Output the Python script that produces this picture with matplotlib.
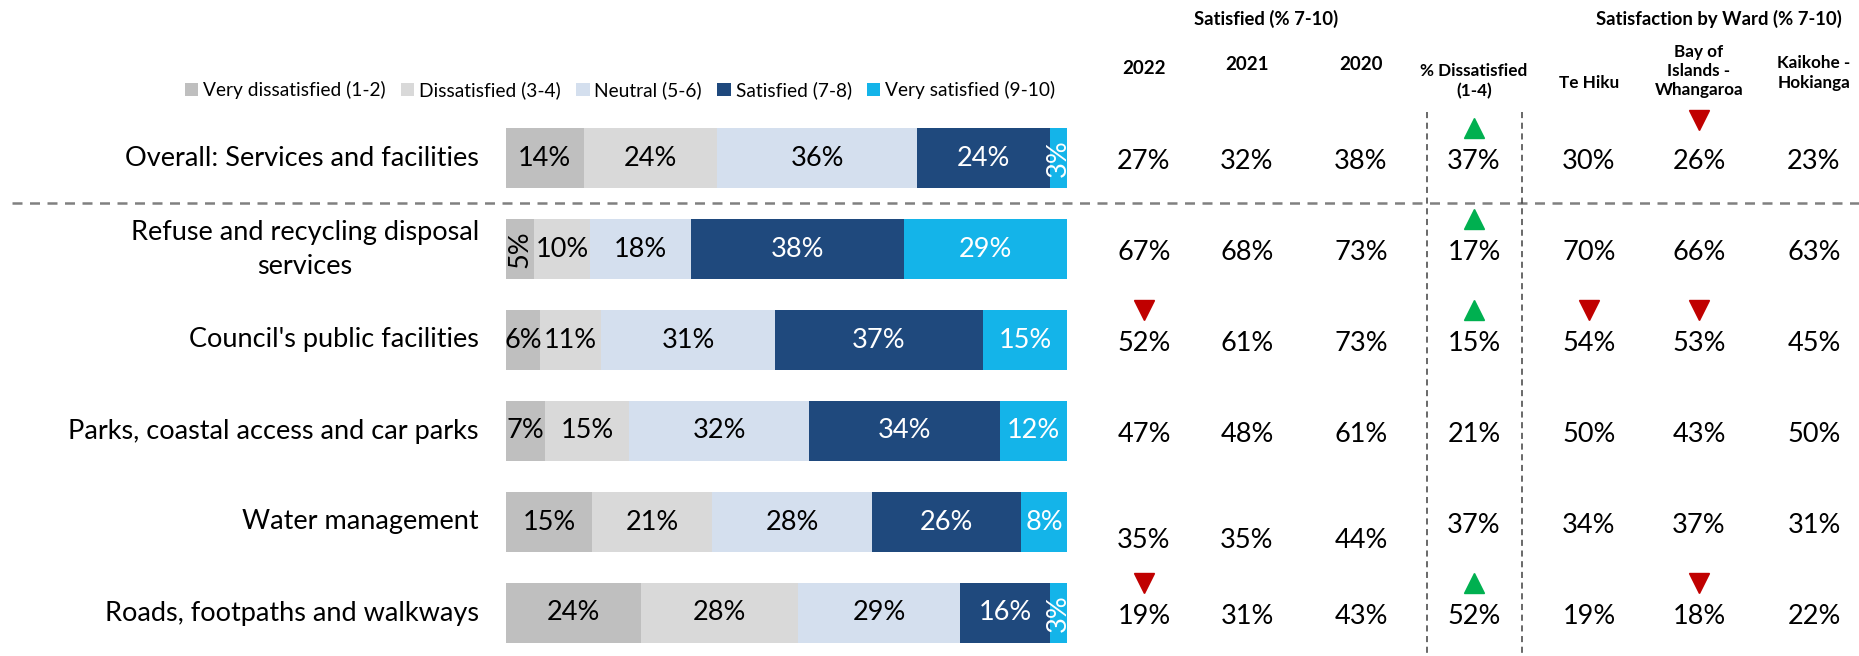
## import necessary libraries
import matplotlib
matplotlib.use('Agg')
import matplotlib.pyplot as plt
from matplotlib.lines import Line2D
from matplotlib.patches import Patch
from matplotlib.transforms import blended_transform_factory

plt.rcParams['font.family'] = ['Lato', 'DejaVu Sans']

# ------------------------------------------------------------------------------------------------
## data
categories = ['Overall: Services and facilities',
              'Refuse and recycling disposal\nservices',
              "Council's public facilities",
              'Parks, coastal access and car parks',
              'Water management',
              'Roads, footpaths and walkways']
segment_names = ['Very dissatisfied (1-2)', 'Dissatisfied (3-4)', 'Neutral (5-6)',
                 'Satisfied (7-8)', 'Very satisfied (9-10)']
very_dissatisfied = [14, 5, 6, 7, 15, 24]
dissatisfied = [24, 10, 11, 15, 21, 28]
neutral = [36, 18, 31, 32, 28, 29]
satisfied = [24, 38, 37, 34, 26, 16]
very_satisfied = [3, 29, 15, 12, 8, 3]

# table columns on the right
column_headers = ['2022', '2021', '2020', '% Dissatisfied\n(1-4)',
                  'Te Hiku', 'Bay of\nIslands -\nWhangaroa', 'Kaikohe -\nHokianga']
sat_2022 = [27, 67, 52, 47, 35, 19]
sat_2021 = [32, 68, 61, 48, 35, 31]
sat_2020 = [38, 73, 73, 61, 44, 43]
pct_dissatisfied = [37, 17, 15, 21, 37, 52]
te_hiku = [30, 70, 54, 50, 34, 19]
bay_of_islands = [26, 66, 53, 43, 37, 18]
kaikohe = [23, 63, 45, 50, 31, 22]

# significance arrows: 1 = green up, -1 = red down, 0 = none
flags_2022 = [0, 0, -1, 0, 0, -1]
flags_2021 = [0, 0, 0, 0, 0, 0]
flags_2020 = [0, 0, 0, 0, 0, 0]
flags_dissatisfied = [1, 1, 1, 0, 0, 1]
flags_te_hiku = [0, 0, -1, 0, 0, 0]
flags_bay = [-1, 0, -1, 0, 0, -1]
flags_kaikohe = [0, 0, 0, 0, 0, 0]

# ------------------------------------------------------------------------------------------------
## styling / layout (pixels of the 1859x656 output)
W, H = 1859, 656
colors = ['#BFBFBF', '#D9D9D9', '#D4DFEE', '#1F497D', '#14B4E9']
text_colors = ['black', 'black', 'black', 'white', 'white']
row_top, row_step = 158, 91
col_x = [1144, 1247, 1361, 1474, 1589, 1699, 1814]
fs = 19.5

fig = plt.figure(figsize=(W / 100, H / 100), dpi=100)
ax = fig.add_axes([506 / W, 0, 561 / W, 1])
ax.set_xlim(0, 100)
ax.set_ylim((H - row_top) / row_step, -row_top / row_step)
ax.axis('off')
tr = blended_transform_factory(fig.transFigure, ax.transData)

# ------------------------------------------------------------------------------------------------
## stacked bars, normalised to 100 like the original
segments = [very_dissatisfied, dissatisfied, neutral, satisfied, very_satisfied]
for r in range(len(categories)):
    total = sum(s[r] for s in segments)
    left = 0
    for k, seg in enumerate(segments):
        w = seg[r] / total * 100
        ax.barh(r, w, left=left, height=0.66, color=colors[k], edgecolor='none')
        rot = 90 if seg[r] <= 5 else 0
        ax.text(left + w / 2, r, f'{seg[r]}%', ha='center', va='center',
                color=text_colors[k], fontsize=fs, rotation=rot)
        left += w
    ax.text(479 / W, r, categories[r], transform=tr, ha='right', va='center',
            fontsize=fs, multialignment='center', linespacing=1.45)

# ------------------------------------------------------------------------------------------------
## right hand table
columns = [sat_2022, sat_2021, sat_2020, pct_dissatisfied, te_hiku, bay_of_islands, kaikohe]
flags = [flags_2022, flags_2021, flags_2020, flags_dissatisfied, flags_te_hiku, flags_bay, flags_kaikohe]
for c, vals in enumerate(columns):
    for r, v in enumerate(vals):
        dy = 0.2 if (r == 4 and c < 3) else 0.04
        ax.text(col_x[c] / W, r + dy, f'{v}%', transform=tr, ha='center', va='center', fontsize=fs)
        f = flags[c][r]
        if f != 0:
            lift = 0.46 if (r == 0 and f < 0) else 0.37
            ax.plot(col_x[c] / W, r + dy - lift, transform=tr, clip_on=False,
                    marker='^' if f > 0 else 'v', markersize=14, linestyle='none',
                    color='#00B050' if f > 0 else '#C00000')

# headers
header_y = [68, 65, 65, 81, 83, 71, 73]
header_fs = [13.5, 13.5, 13.5, 12.3, 12.3, 12.3, 12.3]
for c, name in enumerate(column_headers):
    fig.text(col_x[c] / W, 1 - header_y[c] / H, name, ha='center', va='center',
             fontsize=header_fs[c], fontweight='bold', linespacing=1.25)
fig.text(1266 / W, 1 - 19 / H, 'Satisfied (% 7-10)', ha='center', va='center',
         fontsize=13.3, fontweight='bold')
fig.text(1719 / W, 1 - 19 / H, 'Satisfaction by Ward (% 7-10)', ha='center', va='center',
         fontsize=13.3, fontweight='bold')

# dashed separators
ax.plot([12 / W, 1], [0.495, 0.495], transform=tr, clip_on=False,
        color='#808080', lw=1.8, linestyle=(0, (4, 3)))
for xv in [1427, 1522]:
    fig.add_artist(Line2D([xv / W, xv / W], [1 - 112 / H, 0], transform=fig.transFigure,
                          color='#404040', lw=1.1, linestyle=(0, (4, 3))))

# legend
handles = [Patch(facecolor=colors[k], edgecolor='none') for k in range(5)]
fig.legend(handles, segment_names, loc='center', bbox_to_anchor=(620 / W, 1 - 90 / H),
           ncol=5, frameon=False, fontsize=13.8, handlelength=0.7, handleheight=0.7,
           handletextpad=0.25, columnspacing=0.8)

fig.savefig('out.png', dpi=100)
